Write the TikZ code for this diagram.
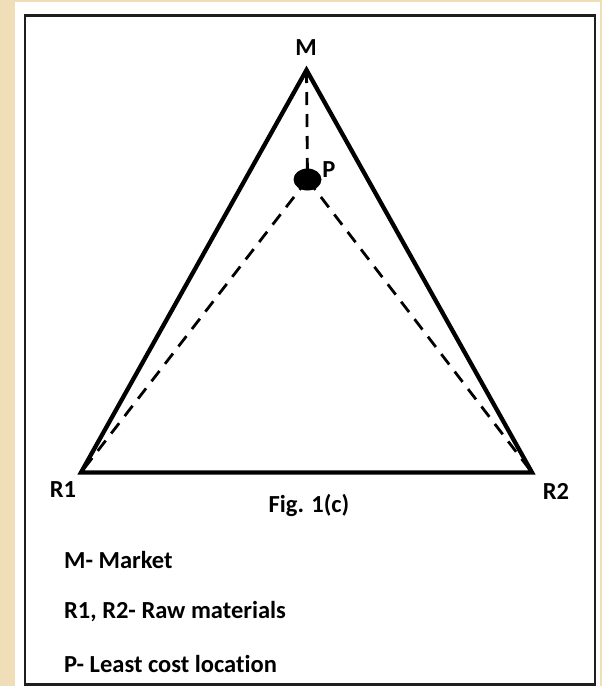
\documentclass[tikz,border=0pt]{standalone}
\usepackage{fontspec}
\usetikzlibrary{shapes.geometric}
\setmainfont[Ligatures=NoCommon]{Carlito}
\definecolor{beige}{RGB}{240,222,184}
\definecolor{frame}{RGB}{30,30,30}
\begin{document}
\begin{tikzpicture}[x=1pt,y=-1pt,
  lbl/.style={font=\bfseries\fontsize{24.5}{28}\selectfont, inner sep=0pt},
  side/.style={line width=4.3pt, line join=miter},
  dashln/.style={line width=2.8pt, dash pattern=on 13pt off 9pt}]
\useasboundingbox (0,0) rectangle (602,686);
\fill[beige] (0,0) rectangle (602,686);
\fill[white] (15,2) rectangle (600,686);
\draw[frame, line width=2.8pt] (25,15.5) rectangle (595,684.5);
\coordinate (M) at (306.5,70);
\coordinate (R1) at (81,472.5);
\coordinate (R2) at (532,472.5);
\node[fill=black, ellipse, minimum width=28pt, minimum height=22pt, inner sep=0pt] (P) at (307.5,179.5) {};
\draw[dashln] (M) -- (P.center);
\draw[dashln] (P.center) -- (R1);
\draw[dashln] (P.center) -- (R2);
\draw[side] (M) -- (R1) -- (R2) -- cycle;
\node[lbl] (lM) at (306,48) {M};
\node[lbl] (lP) at (329,170) {P};
\node[lbl] (lR1) at (63,490) {R1};
\node[lbl] (lR2) at (556,491) {R2};
\node[lbl] (fig) at (309,505) {Fig. 1(c)};
\node[lbl, anchor=west] (k1) at (64,560) {M- Market};
\node[lbl, anchor=west] (k2) at (64,612) {R1, R2- Raw materials};
\node[lbl, anchor=west] (k3) at (64,664) {P- Least cost location};
\end{tikzpicture}
\end{document}
